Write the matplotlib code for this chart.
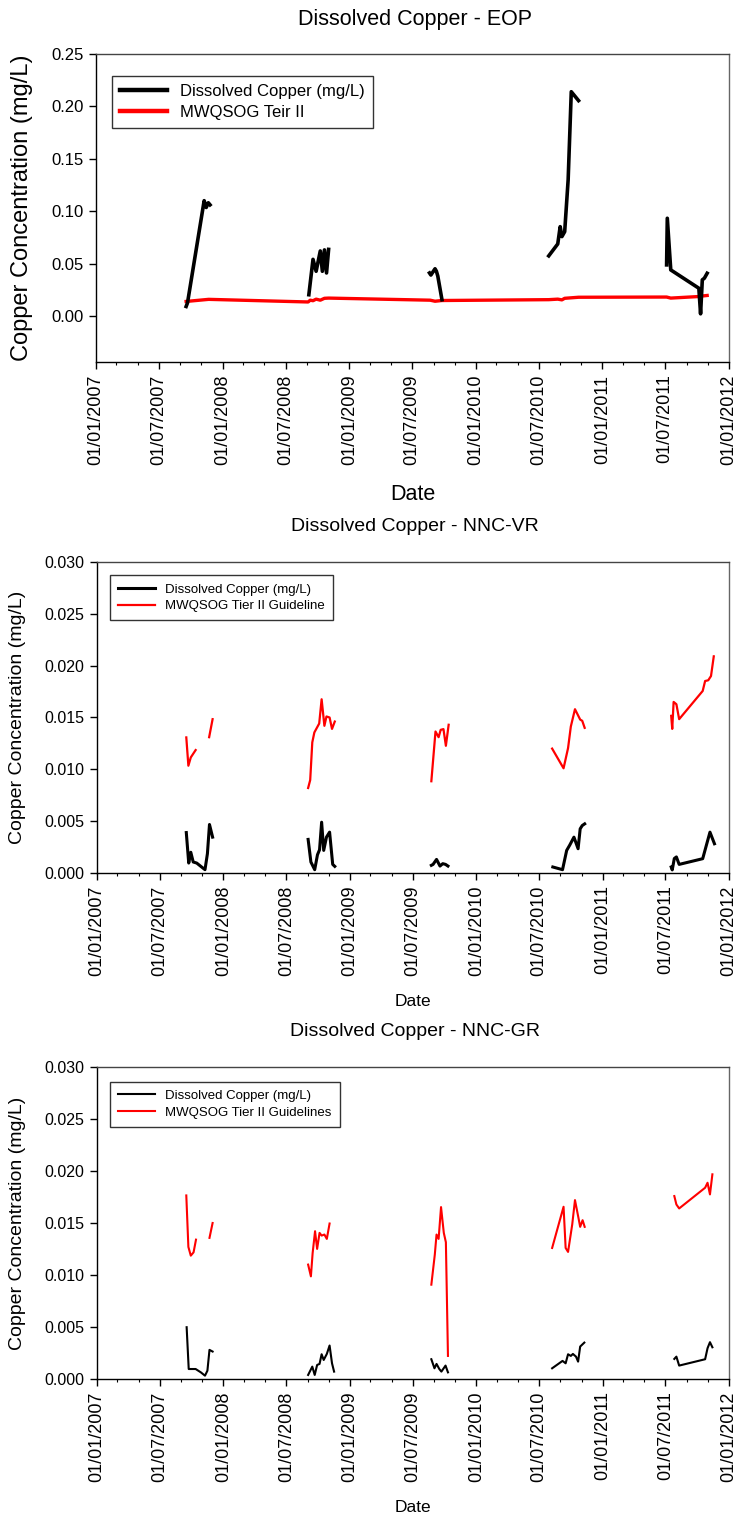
import numpy as np
import pandas as pd
import matplotlib
matplotlib.use('Agg')
import matplotlib.pyplot as plt
import matplotlib.dates as mdates

# ---- EOP ----
eop_cu_dates = [
    ['2007-09-18', '2007-09-22', '2007-11-09', '2007-11-15', '2007-11-21', '2007-11-26'],
    ['2008-09-06', '2008-09-18', '2008-09-27', '2008-10-09', '2008-10-15', '2008-10-21', '2008-10-27', '2008-11-02'],
    ['2009-08-20', '2009-08-24', '2009-09-05', '2009-09-09', '2009-09-13', '2009-09-25'],
    ['2010-07-30', '2010-08-25', '2010-09-01', '2010-09-06', '2010-09-14', '2010-09-24', '2010-10-03', '2010-10-24'],
    ['2011-07-05', '2011-07-07', '2011-07-17', '2011-10-06', '2011-10-11', '2011-10-16', '2011-10-22', '2011-10-30'],
]
eop_cu_vals = [
    [0.0090, 0.0125, 0.110, 0.1035, 0.108, 0.106],
    [0.0202, 0.054, 0.0426, 0.062, 0.0426, 0.063, 0.041, 0.0635],
    [0.041, 0.039, 0.045, 0.0426, 0.038, 0.0154],
    [0.0573, 0.0687, 0.0852, 0.0757, 0.0804, 0.130, 0.214, 0.2055],
    [0.0487, 0.0932, 0.0439, 0.0264, 0.002, 0.0344, 0.0360, 0.0407],
]
eop_gl_dates = ['2007-09-18', '2007-11-22', '2008-09-04', '2008-09-10', '2008-09-18', '2008-09-27',
                '2008-10-09', '2008-10-21', '2008-11-02', '2009-08-22', '2009-09-05', '2009-09-25',
                '2010-07-30', '2010-08-25', '2010-09-06', '2010-09-14', '2010-10-24', '2011-07-05',
                '2011-07-17', '2011-10-06', '2011-10-16', '2011-10-30']
eop_gl_vals = [0.0138, 0.0158, 0.0133, 0.0150, 0.0145, 0.0160, 0.0150, 0.0168, 0.0170, 0.0150, 0.0140, 0.0147,
               0.0155, 0.0160, 0.0153, 0.0168, 0.0178, 0.0180, 0.0170, 0.0185, 0.0190, 0.0195]

# ---- NNC-VR ----
vr_cu_dates = [
    ['2007-09-16', '2007-09-23', '2007-09-29', '2007-10-06', '2007-10-16', '2007-11-09', '2007-11-16', '2007-11-22', '2007-12-01'],
    ['2008-09-02', '2008-09-10', '2008-09-21', '2008-09-29', '2008-10-05', '2008-10-11', '2008-10-17', '2008-10-25', '2008-11-03', '2008-11-12', '2008-11-18'],
    ['2009-08-24', '2009-08-29', '2009-09-08', '2009-09-18', '2009-09-26', '2009-10-04', '2009-10-11'],
    ['2010-08-10', '2010-09-07', '2010-09-19', '2010-09-28', '2010-10-10', '2010-10-22', '2010-10-28', '2010-11-03', '2010-11-10'],
    ['2011-07-18', '2011-07-21', '2011-07-27', '2011-08-02', '2011-08-10', '2011-10-17', '2011-11-07', '2011-11-20'],
]
vr_cu_vals = [
    [0.0039, 0.00096, 0.0020, 0.00106, 0.00096, 0.00032, 0.00186, 0.00468, 0.00346],
    [0.00324, 0.00106, 0.00032, 0.00176, 0.00224, 0.0049, 0.00218, 0.00346, 0.00394, 0.00083, 0.00064],
    [0.00074, 0.00083, 0.00131, 0.00067, 0.0009, 0.00083, 0.00067],
    [0.00058, 0.00032, 0.00218, 0.0027, 0.00346, 0.00234, 0.00426, 0.00458, 0.00474],
    [0.00058, 0.0003, 0.0014, 0.00155, 0.00083, 0.00138, 0.00394, 0.00282],
]
vr_gl_dates = [
    ['2007-09-16', '2007-09-22', '2007-09-29', '2007-10-13'],
    ['2007-11-21', '2007-12-01'],
    ['2008-09-02', '2008-09-08', '2008-09-14', '2008-09-20', '2008-10-04', '2008-10-11', '2008-10-19', '2008-10-25', '2008-11-03', '2008-11-10', '2008-11-18'],
    ['2009-08-24', '2009-09-05', '2009-09-14', '2009-09-20', '2009-09-28', '2009-10-05', '2009-10-13'],
    ['2010-08-08', '2010-09-10', '2010-09-23', '2010-10-01', '2010-10-13', '2010-10-28', '2010-11-03', '2010-11-10'],
    ['2011-07-18', '2011-07-21', '2011-07-25', '2011-08-02', '2011-08-10', '2011-10-17', '2011-10-24', '2011-11-02', '2011-11-10', '2011-11-18'],
]
vr_gl_vals = [
    [0.01308, 0.01035, 0.01115, 0.01186],
    [0.0131, 0.01484],
    [0.0082, 0.00897, 0.0126, 0.01356, 0.01442, 0.01676, 0.0142, 0.0151, 0.0150, 0.0139, 0.01461],
    [0.00885, 0.01365, 0.0131, 0.01381, 0.01388, 0.01227, 0.0143],
    [0.0120, 0.0101, 0.01205, 0.01413, 0.0158, 0.0148, 0.01468, 0.0140],
    [0.01516, 0.0139, 0.0165, 0.01628, 0.01484, 0.01756, 0.01852, 0.01859, 0.0190, 0.0209],
]

# ---- NNC-GR ----
gr_cu_dates = [
    ['2007-09-17', '2007-09-23', '2007-10-13', '2007-10-28', '2007-11-09', '2007-11-16', '2007-11-22', '2007-12-01'],
    ['2008-09-02', '2008-09-14', '2008-09-21', '2008-09-28', '2008-10-05', '2008-10-11', '2008-10-17', '2008-10-26', '2008-11-03', '2008-11-10', '2008-11-16'],
    ['2009-08-24', '2009-09-02', '2009-09-08', '2009-09-16', '2009-09-22', '2009-10-04', '2009-10-11'],
    ['2010-08-08', '2010-09-07', '2010-09-16', '2010-09-23', '2010-10-01', '2010-10-07', '2010-10-16', '2010-10-22', '2010-10-28', '2010-11-09'],
    ['2011-07-27', '2011-08-02', '2011-08-10', '2011-10-24', '2011-10-31', '2011-11-07', '2011-11-14'],
]
gr_cu_vals = [
    [0.00498, 0.00096, 0.00096, 0.00064, 0.00032, 0.0008, 0.0028, 0.00264],
    [0.00039, 0.00119, 0.00039, 0.00135, 0.00145, 0.00238, 0.00183, 0.00241, 0.00322, 0.00151, 0.00071],
    [0.0019, 0.00103, 0.00145, 0.00096, 0.00071, 0.00129, 0.00064],
    [0.00103, 0.00174, 0.00151, 0.00238, 0.00222, 0.00241, 0.00215, 0.00167, 0.00312, 0.0035],
    [0.00193, 0.00215, 0.00129, 0.0019, 0.00296, 0.00354, 0.00305],
]
gr_gl_dates = [
    ['2007-09-16', '2007-09-22', '2007-09-29', '2007-10-07', '2007-10-14'],
    ['2007-11-22', '2007-12-01'],
    ['2008-09-02', '2008-09-10', '2008-09-15', '2008-09-22', '2008-09-28', '2008-10-05', '2008-10-11', '2008-10-19', '2008-10-26', '2008-11-03'],
    ['2009-08-24', '2009-09-03', '2009-09-08', '2009-09-14', '2009-09-21', '2009-09-29', '2009-10-05', '2009-10-11'],
    ['2010-08-08', '2010-09-10', '2010-09-16', '2010-09-23', '2010-10-05', '2010-10-13', '2010-10-23', '2010-10-28', '2010-11-04', '2010-11-10'],
    ['2011-07-27', '2011-08-02', '2011-08-10', '2011-10-24', '2011-10-31', '2011-11-07', '2011-11-14'],
]
gr_gl_vals = [
    [0.01765, 0.0127, 0.01186, 0.01218, 0.0134],
    [0.01357, 0.0150],
    [0.0110, 0.00987, 0.0121, 0.01421, 0.01251, 0.01405, 0.01379, 0.01389, 0.01347, 0.01495],
    [0.00907, 0.01196, 0.01389, 0.01347, 0.01653, 0.01405, 0.01315, 0.00222],
    [0.0126, 0.01656, 0.0126, 0.01222, 0.01485, 0.0172, 0.0155, 0.01463, 0.01527, 0.01463],
    [0.01759, 0.01678, 0.0164, 0.01839, 0.01887, 0.01775, 0.01968],
]

regular = ['Liberation Sans', 'DejaVu Sans']
narrow = ['Liberation Sans Narrow', 'Liberation Sans', 'DejaVu Sans']

W, H = 739, 1519
RIGHT = 729
fig = plt.figure(figsize=(W / 100, H / 100), dpi=100)


def px_axes(left, top, right, bottom):
    return fig.add_axes([left / W, 1 - bottom / H, (right - left) / W, (bottom - top) / H])


def style_axes(ax, ylim, yticks, yfmt, tick_fs, xtick_fs):
    ax.set_xlim(pd.Timestamp('2007-01-01'), pd.Timestamp('2012-01-01'))
    ax.set_ylim(*ylim)
    ax.set_yticks(yticks)
    ax.set_yticklabels([yfmt.format(v) for v in yticks], fontsize=tick_fs, family=regular)
    ax.xaxis.set_major_locator(mdates.MonthLocator(bymonth=[1, 7]))
    ax.xaxis.set_minor_locator(mdates.MonthLocator(bymonth=[3, 5, 9, 11]))
    ax.xaxis.set_major_formatter(mdates.DateFormatter('%d/%m/%Y'))
    for lab in ax.get_xticklabels():
        lab.set_rotation(90)
        lab.set_fontsize(xtick_fs)
        lab.set_family(regular)
    ax.tick_params(axis='both', which='major', direction='out', length=5, width=1, pad=4)
    ax.tick_params(axis='x', which='minor', direction='out', length=2.5, width=0.8)
    ax.tick_params(axis='x', which='major', pad=4)
    for s in ax.spines.values():
        s.set_linewidth(1.0)
    ax.spines['top'].set_color('#444444')
    ax.spines['right'].set_color('#666666')


def place_xlabel(ax, top, bottom, y_px):
    ax.xaxis.label.set_va('center')
    ax.xaxis.set_label_coords(0.5, 1 - (y_px - top) / (bottom - top))


# ---------- top: EOP ----------
ax1 = px_axes(96, 54, RIGHT, 362)
for i, (d, v) in enumerate(zip(eop_cu_dates, eop_cu_vals)):
    ax1.plot(pd.to_datetime(d), v, color='black', lw=2.6,
             label='Dissolved Copper (mg/L)' if i == 0 else None, zorder=3)
ax1.plot(pd.to_datetime(eop_gl_dates), eop_gl_vals, color='red', lw=2.4,
         label='MWQSOG Teir II', zorder=2)
style_axes(ax1, (-0.044, 0.25), [0.0, 0.05, 0.10, 0.15, 0.20, 0.25], '{:.2f}', 12, 13)
ax1.set_ylabel('Copper Concentration (mg/L)', fontsize=17, family=regular)
ax1.yaxis.set_label_coords(-0.1, 0.5)
ax1.set_xlabel('Date', fontsize=15.5, family=regular)
place_xlabel(ax1, 54, 362, 494)
leg1 = ax1.legend(loc='upper left', bbox_to_anchor=(16 / (RIGHT - 96), 0.93), frameon=True, fancybox=False,
                  edgecolor='black', borderaxespad=0, prop={'family': narrow, 'size': 12},
                  handlelength=2.8, borderpad=0.5, labelspacing=0.35)
leg1.get_frame().set_linewidth(1.0)
for ln in leg1.get_lines():
    ln.set_linewidth(3.2)
fig.text(415 / W, 1 - 20 / H, 'Dissolved Copper - EOP', ha='center', va='center',
         fontsize=15.5, family=narrow)


def small_panel(top, bottom, cu_d, cu_v, gl_d, gl_v, cu_lw, gl_lw, gl_label, title, title_y, date_y, leg_top):
    ax = px_axes(97, top, RIGHT, bottom)
    for i, (d, v) in enumerate(zip(cu_d, cu_v)):
        ax.plot(pd.to_datetime(d), v, color='black', lw=cu_lw,
                label='Dissolved Copper (mg/L)' if i == 0 else None, zorder=3)
    for i, (d, v) in enumerate(zip(gl_d, gl_v)):
        ax.plot(pd.to_datetime(d), v, color='red', lw=gl_lw,
                label=gl_label if i == 0 else None, zorder=2)
    style_axes(ax, (0.0, 0.030), [0.0, 0.005, 0.010, 0.015, 0.020, 0.025, 0.030], '{:.3f}', 11.5, 13)
    ax.set_ylabel('Copper Concentration (mg/L)', fontsize=14, family=regular)
    ax.yaxis.set_label_coords(-0.112, 0.5)
    ax.set_xlabel('Date', fontsize=12.5, family=narrow)
    place_xlabel(ax, top, bottom, date_y)
    leg = ax.legend(loc='upper left', bbox_to_anchor=(13 / (RIGHT - 97), leg_top), frameon=True, fancybox=False,
                    edgecolor='black', borderaxespad=0, prop={'family': narrow, 'size': 9.5},
                    handlelength=2.8, borderpad=0.6, labelspacing=0.35)
    leg.get_frame().set_linewidth(1.0)
    fig.text(415 / W, 1 - title_y / H, title, ha='center', va='center', fontsize=14, family=narrow)
    return ax


small_panel(562, 873, vr_cu_dates, vr_cu_vals, vr_gl_dates, vr_gl_vals, 2.2, 1.6,
            'MWQSOG Tier II Guideline', 'Dissolved Copper - NNC-VR', 527, 1002, 0.957)
small_panel(1067, 1379, gr_cu_dates, gr_cu_vals, gr_gl_dates, gr_gl_vals, 1.5, 1.5,
            'MWQSOG Tier II Guidelines', 'Dissolved Copper - NNC-GR', 1031, 1507, 0.953)

fig.savefig('out.png', dpi=100)
